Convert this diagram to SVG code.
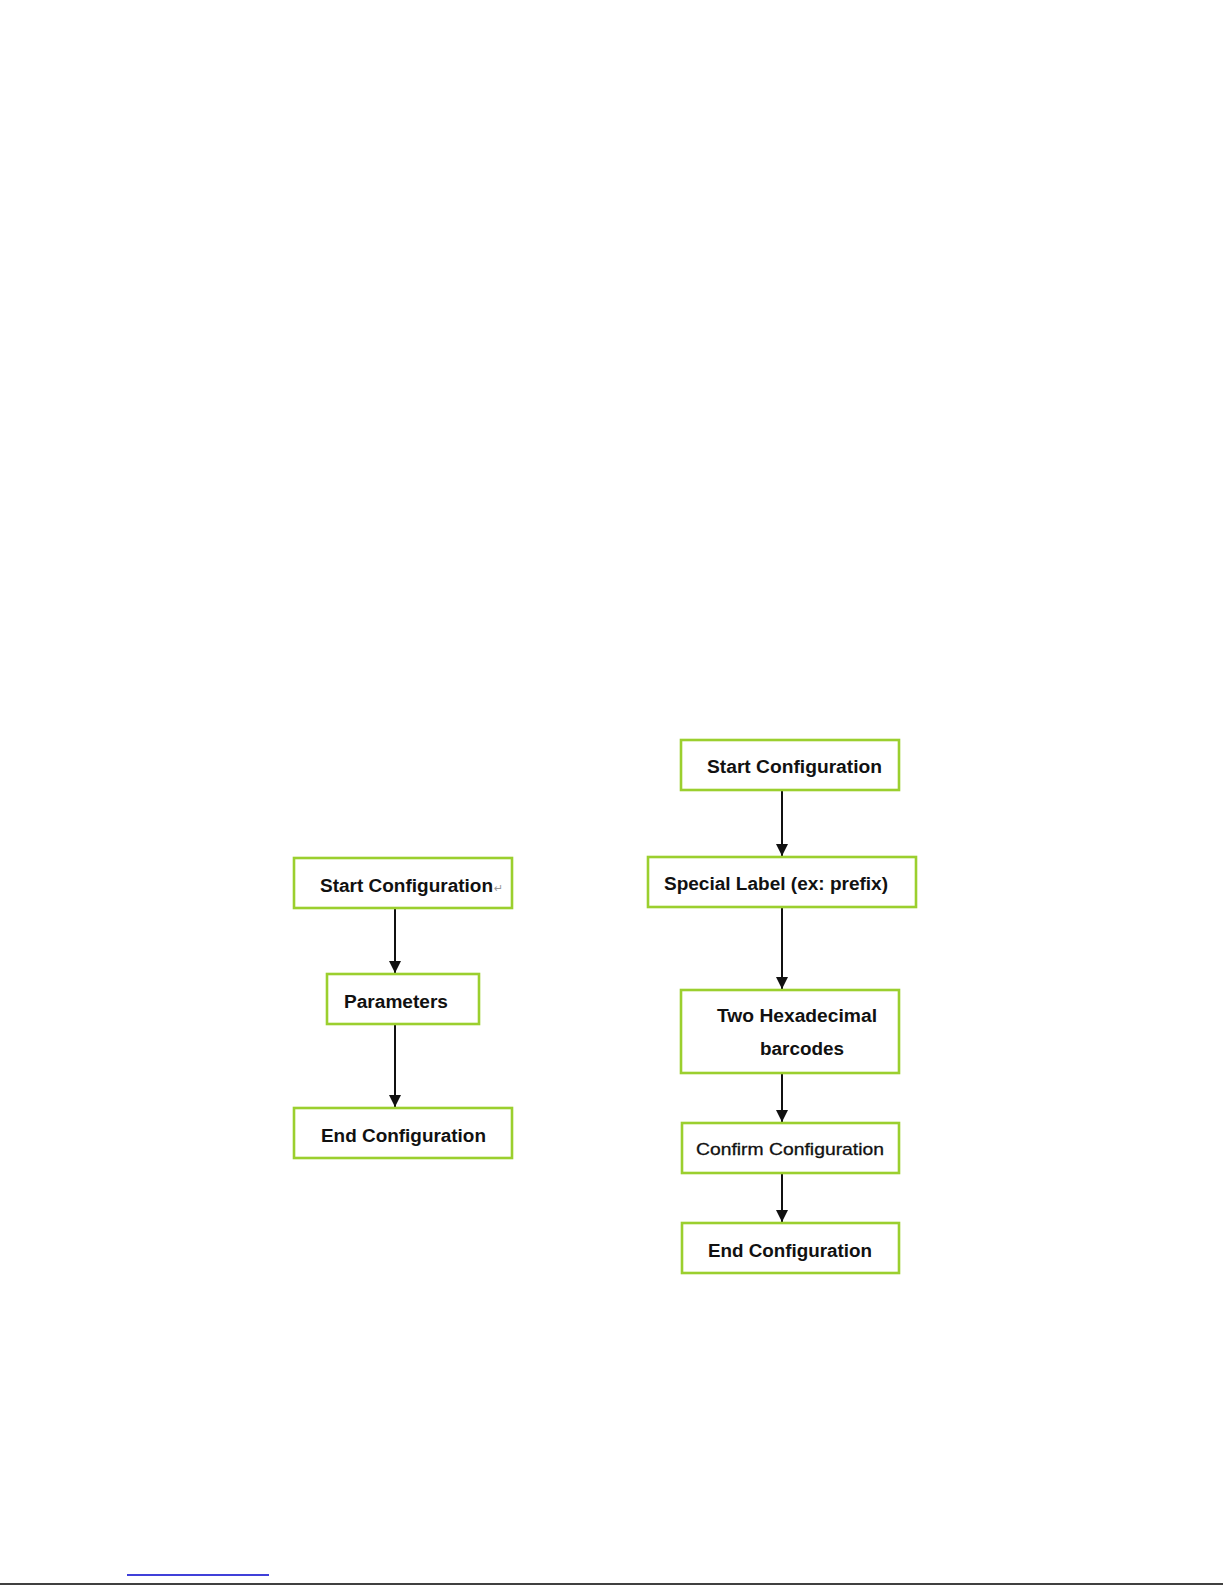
<svg xmlns="http://www.w3.org/2000/svg" width="1225" height="1585" viewBox="0 0 1225 1585">
<style>
.box{fill:#fff;stroke:#9BCF2E;stroke-width:2.6}
.t{font-family:"Liberation Sans",Arial,sans-serif;font-weight:bold;font-size:18px;fill:#111}
.r{font-family:"Liberation Sans",Arial,sans-serif;font-size:17px;fill:#111;stroke:#111;stroke-width:0.3}
.c{stroke:#111;stroke-width:2;fill:none}
</style>
<defs>
<marker id="ah" viewBox="0 0 12 12" refX="12" refY="6" markerWidth="12" markerHeight="12" markerUnits="userSpaceOnUse" orient="auto">
<path d="M0,0 L12,6 L0,12 z" fill="#111"/>
</marker>
</defs>
<rect width="1225" height="1585" fill="#fff"/>
<g id="connectors">
<line class="c" x1="395" y1="908" x2="395" y2="973" marker-end="url(#ah)"/>
<line class="c" x1="395" y1="1024" x2="395" y2="1107" marker-end="url(#ah)"/>
<line class="c" x1="782" y1="790" x2="782" y2="856" marker-end="url(#ah)"/>
<line class="c" x1="782" y1="907" x2="782" y2="989" marker-end="url(#ah)"/>
<line class="c" x1="782" y1="1073" x2="782" y2="1122" marker-end="url(#ah)"/>
<line class="c" x1="782" y1="1173" x2="782" y2="1222" marker-end="url(#ah)"/>
</g>
<g id="left-start">
<rect class="box" x="294" y="858" width="218" height="50"/>
<text class="t" x="320" y="892" textLength="173" lengthAdjust="spacingAndGlyphs">Start Configuration</text>
<text x="494" y="892" font-family="DejaVu Sans,sans-serif" font-size="11" fill="#999">↵</text>
</g>
<g id="left-params">
<rect class="box" x="327" y="974" width="152" height="50"/>
<text class="t" x="344" y="1008" textLength="104" lengthAdjust="spacingAndGlyphs">Parameters</text>
</g>
<g id="left-end">
<rect class="box" x="294" y="1108" width="218" height="50"/>
<text class="t" x="321" y="1142" textLength="165" lengthAdjust="spacingAndGlyphs">End Configuration</text>
</g>
<g id="right-start">
<rect class="box" x="681" y="740" width="218" height="50"/>
<text class="t" x="707" y="773" textLength="175" lengthAdjust="spacingAndGlyphs">Start Configuration</text>
</g>
<g id="right-special">
<rect class="box" x="648" y="857" width="268" height="50"/>
<text class="t" x="664" y="890" textLength="224" lengthAdjust="spacingAndGlyphs">Special Label (ex: prefix)</text>
</g>
<g id="right-hex">
<rect class="box" x="681" y="990" width="218" height="83"/>
<text class="t" x="717" y="1022" textLength="160" lengthAdjust="spacingAndGlyphs">Two Hexadecimal</text>
<text class="t" x="760" y="1055" textLength="84" lengthAdjust="spacingAndGlyphs">barcodes</text>
</g>
<g id="right-confirm">
<rect class="box" x="682" y="1123" width="217" height="50"/>
<text class="r" x="696" y="1155" textLength="188" lengthAdjust="spacingAndGlyphs">Confirm Configuration</text>
</g>
<g id="right-end">
<rect class="box" x="682" y="1223" width="217" height="50"/>
<text class="t" x="708" y="1257" textLength="164" lengthAdjust="spacingAndGlyphs">End Configuration</text>
</g>
<line x1="127" y1="1575" x2="269" y2="1575" stroke="#0000CC" stroke-width="1.5"/>
<line x1="0" y1="1584" x2="1223" y2="1584" stroke="#000" stroke-width="1.5"/>
</svg>
